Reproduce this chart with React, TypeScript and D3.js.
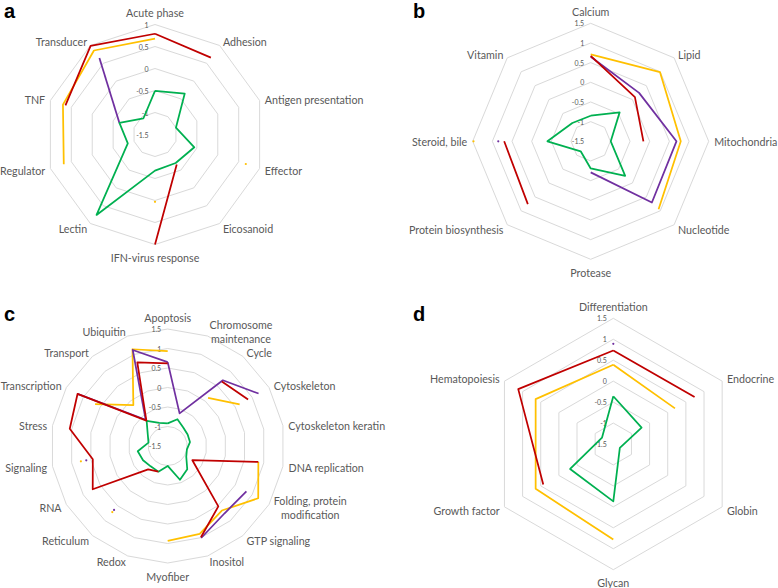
import React from 'react';
import * as d3 from 'd3';

const RED = '#C00000';
const YELLOW = '#FFC000';
const PURPLE = '#7030A0';
const GREEN = '#00B050';

// Panel a
const catsA = ['Acute phase', 'Adhesion', 'Antigen presentation', 'Effector', 'Eicosanoid', 'IFN-virus response', 'Lectin', 'Regulator', 'TNF', 'Transducer'];
const yellowA = [0.68, null, null, 0.67, null, 0.03, null, 0.68, 0.70, 0.86];
const purpleA = [null, null, null, null, null, null, null, null, -0.65, 0.65];
const greenA = [-0.51, -0.35, -1.0, -0.56, -0.7, -0.68, 0.76, -0.85, -0.65, -1.05];
const redA = [0.79, 0.66, null, null, -0.66, 1.0, null, null, 0.64, 0.99];
const ticksA = [1, 0.5, 0, -0.5, -1, -1.5];

// Panel b
const catsB = ['Calcium', 'Lipid', 'Mitochondria', 'Nucleotide', 'Protease', 'Protein biosynthesis', 'Steroid, bile', 'Vitamin'];
const yellowB = [0.71, 0.99, 0.79, 0.94, null, null, 1.48, null];
const purpleB = [0.65, 0.24, 0.68, 0.70, -0.71, null, 0.85, null];
const greenB = [-0.85, -0.46, -0.99, -0.26, -0.81, -1.14, -0.4, -0.84];
const redB = [0.67, 0.09, -0.16, null, null, 0.76, 0.70, null];
const ticksB = [1.5, 1, 0.5, 0, -0.5, -1, -1.5];

// Panel c
const catsC = ['Apoptosis', 'Chromosome\nmaintenance', 'Cycle', 'Cytoskeleton', 'Cytoskeleton keratin', 'DNA replication', 'Folding, protein\nmodification', 'GTP signaling', 'Inositol', 'Myofiber', 'Redox', 'Reticulum', 'RNA', 'Signaling', 'Stress', 'Transcription', 'Transport', 'Ubiquitin'];
const yellowC = [0.93, null, 0.11, 0.63, null, 0.86, 1.18, 0.66, 0.90, 0.93, null, 0.71, null, 0.76, null, 0.65, -0.13, 1.14];
const purpleC = [0.65, -0.61, 0.70, 1.19, null, null, 0.83, 0.76, 1.01, null, null, 0.64, null, 0.62, null, 1.17, -0.62, 1.12];
const greenC = [-0.92, -0.77, -0.88, -0.91, -0.92, -1.0, -0.95, -0.72, -0.58, -0.99, -0.8, -0.82, -0.77, -0.72, -1.0, -0.91, -0.66, -0.87];
const redC = [0.62, null, 0.66, 0.88, null, 0.86, -0.77, 0.52, 0.99, null, -0.8, -0.72, 0.72, 0.45, 1.05, 1.17, -0.65, 0.78];
const ticksC = [1.5, 1, 0.5, 0, -0.5, -1, -1.5];

// Panel d
const catsD = ['Differentiation', 'Endocrine', 'Globin', 'Glycan', 'Growth factor', 'Hematopoiesis'];
const yellowD = [0.39, 0.20, null, 0.78, 0.64, 0.64];
const purpleD = [0.89, null, null, null, null, null];
const greenD = [-0.36, -0.72, -1.32, -0.13, -0.31, -1.19];
const redD = [0.73, 0.74, null, null, 0.43, 1.12];
const ticksD = [1.5, 1, 0.5, 0, -0.5, -1, -1.5];

const LABEL_FONT = 'Lato, "Open Sans", sans-serif';
const LABEL_SIZE = 10.7;
const TEXT_COLOR = '#595959';
const GRID = '#D9D9D9';

type Val = number | null;
type Ser = { color: string; values: Val[] };

let ctx: CanvasRenderingContext2D | null = null;
function measure(text: string): number {
  if (!ctx) ctx = document.createElement('canvas').getContext('2d');
  if (!ctx) return text.length * 5;
  ctx.font = `${LABEL_SIZE}px ${LABEL_FONT}`;
  return ctx.measureText(text).width;
}

function Radar(props: { cx: number; cy: number; R: number; cats: string[]; series: Ser[]; ticks: number[] }) {
  const { cx, cy, R, cats, series, ticks } = props;
  const min = d3.min(ticks) as number;
  const max = d3.max(ticks) as number;
  const r = d3.scaleLinear().domain([min, max]).range([0, R]);
  const n = cats.length;
  const ang = d3.scaleLinear().domain([0, n]).range([0, 2 * Math.PI]);
  const px = (i: number, v: number) => cx + r(v) * Math.sin(ang(i));
  const py = (i: number, v: number) => cy - r(v) * Math.cos(ang(i));

  const rings = ticks.filter((t) => t > min).map((t) => {
    const l = d3.line<number>().x((i) => px(i, t)).y((i) => py(i, t));
    return l(d3.range(n + 1)) as string;
  });

  const pad = 5.5;
  return (
    <g>
      {rings.map((d, k) => (
        <path key={k} d={d} fill="none" stroke={GRID} strokeWidth={1} />
      ))}
      {ticks.map((t, k) => (
        <text key={k} x={cx - 6.5} y={cy - r(t)} textAnchor="end" dominantBaseline="central" fontFamily={LABEL_FONT} fontSize={7} fill={TEXT_COLOR}>
          {String(t)}
        </text>
      ))}
      {series.map((s, k) => {
        const seq = d3.range(n + 1).map((i) => ({ i, v: s.values[i % n] }));
        const line = d3
          .line<{ i: number; v: Val }>()
          .defined((d) => d.v != null)
          .x((d) => px(d.i, d.v as number))
          .y((d) => py(d.i, d.v as number));
        const dots = s.values
          .map((v, i) => ({ v, i }))
          .filter((d) => d.v != null && s.values[(d.i - 1 + n) % n] == null && s.values[(d.i + 1) % n] == null);
        return (
          <g key={k}>
            <path d={line(seq) || ''} fill="none" stroke={s.color} strokeWidth={1.75} strokeLinejoin="round" />
            {dots.map((d) => (
              <circle key={d.i} cx={px(d.i, d.v as number)} cy={py(d.i, d.v as number)} r={1.1} fill={s.color} />
            ))}
          </g>
        );
      })}
      {cats.map((c, i) => {
        const a = ang(i);
        const s = Math.sin(a);
        const co = Math.cos(a);
        const x = cx + (R + pad) * s;
        let y = cy - (R + pad) * co;
        const lines = c.split('\n');
        const lh = 13.6;
        let anchor: 'start' | 'end' | 'middle' = 'middle';
        if (s > 0.05) anchor = 'start';
        else if (s < -0.05) anchor = 'end';
        if (anchor === 'middle') y -= co * 7;
        const widths = lines.map(measure);
        const bw = Math.max(...widths);
        const y0 = y - ((lines.length - 1) * lh) / 2;
        return (
          <text key={i} fontFamily={LABEL_FONT} fontSize={LABEL_SIZE} fill={TEXT_COLOR} dominantBaseline="central" textAnchor="middle">
            {lines.map((ln, j) => {
              let lx = x;
              if (anchor === 'start') lx = x + bw / 2;
              else if (anchor === 'end') lx = x - bw / 2;
              return (
                <tspan key={j} x={lx} y={y0 + j * lh}>
                  {ln}
                </tspan>
              );
            })}
          </text>
        );
      })}
    </g>
  );
}

function Letter({ x, y, t }: { x: number; y: number; t: string }) {
  return (
    <text x={x} y={y} fontFamily='"Liberation Sans", Arial, sans-serif' fontWeight="bold" fontSize={20} fill="#000">
      {t}
    </text>
  );
}

const mk = (y: Val[], p: Val[], g: Val[], r: Val[]): Ser[] => [
  { color: YELLOW, values: y },
  { color: PURPLE, values: p },
  { color: GREEN, values: g },
  { color: RED, values: r },
];

export default function App() {
  return (
    <svg width={778} height={588} style={{ position: 'absolute', left: 0, top: 0, background: '#fff' }}>
      <rect width={778} height={588} fill="#fff" />
      <Radar cx={155} cy={134.5} R={110} cats={catsA} series={mk(yellowA, purpleA, greenA, redA)} ticks={ticksA} />
      <Radar cx={590.7} cy={141.3} R={118} cats={catsB} series={mk(yellowB, purpleB, greenB, redB)} ticks={ticksB} />
      <Radar cx={167.7} cy={446} R={117} cats={catsC} series={mk(yellowC, purpleC, greenC, redC)} ticks={ticksC} />
      <Radar cx={613.3} cy={444} R={125.7} cats={catsD} series={mk(yellowD, purpleD, greenD, redD)} ticks={ticksD} />
      <Letter x={4} y={18} t="a" />
      <Letter x={413} y={18} t="b" />
      <Letter x={4} y={321} t="c" />
      <Letter x={413} y={321} t="d" />
    </svg>
  );
}
